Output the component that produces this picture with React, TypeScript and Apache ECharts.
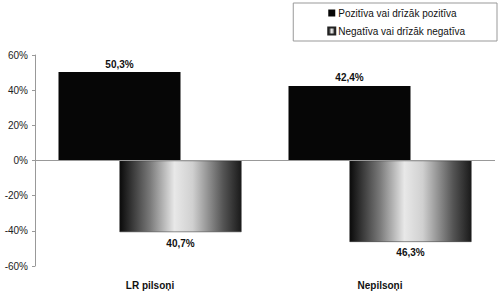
import React, { useEffect, useRef } from "react";
import * as echarts from "echarts";

const categories = ["LR pilsoņi", "Nepilsoņi"];
const positiveName = "Pozitīva vai drīzāk pozitīva";
const negativeName = "Negatīva vai drīzāk negatīva";
const positiveValues = [50.3, 42.4];
const negativeValues = [-40.7, -46.3];
const yTicks = { min: -60, max: 60, interval: 20 };

const fmt = (v: number) => Math.abs(v).toFixed(1).replace(".", ",") + "%";

export default function App() {
  const ref = useRef<HTMLDivElement>(null);
  useEffect(() => {
    if (!ref.current) return;
    const chart = echarts.init(ref.current, null, { renderer: "svg" });
    const grad = new echarts.graphic.LinearGradient(0, 0, 1, 0, [
      { offset: 0, color: "#0a0a0a" },
      { offset: 0.25, color: "#7a7a7a" },
      { offset: 0.45, color: "#e8e8e8" },
      { offset: 0.6, color: "#d0d0d0" },
      { offset: 0.85, color: "#555" },
      { offset: 1, color: "#1a1a1a" },
    ]);
    chart.setOption({
      animation: false,
      textStyle: { fontFamily: "Liberation Sans, Arial, sans-serif" },
      grid: { left: 35, right: 5, top: 55, bottom: 28 },
      legend: {
        orient: "vertical",
        right: 3,
        top: 3,
        borderColor: "#999",
        borderWidth: 1,
        padding: [5, 32, 5, 34],
        itemGap: 8,
        itemWidth: 7,
        itemHeight: 7,
        icon: "rect",
        textStyle: { fontSize: 10, color: "#111", padding: [0, 0, 0, -2] },
        data: [positiveName, negativeName],
      },
      xAxis: {
        type: "category",
        data: categories,
        axisLine: { show: false },
        axisTick: { show: false },
        axisLabel: { margin: 14, fontSize: 10, fontWeight: "bold", color: "#111" },
      },
      yAxis: {
        type: "value",
        min: yTicks.min,
        max: yTicks.max,
        interval: yTicks.interval,
        axisLine: { show: true, lineStyle: { color: "#999" } },
        axisTick: { show: true, length: 3, lineStyle: { color: "#999" } },
        splitLine: { show: false },
        axisLabel: {
          formatter: (v: number) => v + "%",
          fontSize: 10,
          color: "#222",
          margin: 7,
        },
      },
      series: [
        {
          name: positiveName,
          type: "bar",
          data: positiveValues,
          barWidth: 122,
          barGap: "-50%",
          itemStyle: { color: "#060606" },
          label: {
            show: true,
            position: "top",
            distance: 3,
            formatter: (p: any) => fmt(p.value),
            fontSize: 10,
            fontWeight: "bold",
            color: "#111",
          },
          markLine: {
            silent: true,
            symbol: "none",
            label: { show: false },
            lineStyle: { color: "#999", type: "solid", width: 1 },
            data: [{ yAxis: 0 }],
          },
        },
        {
          name: negativeName,
          type: "bar",
          data: negativeValues,
          barWidth: 122,
          barGap: "-50%",
          itemStyle: { color: grad, borderColor: "#222", borderWidth: 0.5 },
          label: {
            show: true,
            position: "bottom",
            distance: 6,
            formatter: (p: any) => fmt(p.value),
            fontSize: 10,
            fontWeight: "bold",
            color: "#111",
          },
          z: 3,
        },
      ],
    });
    return () => chart.dispose();
  }, []);
  return (
    <div
      ref={ref}
      style={{ position: "absolute", left: 0, top: 0, width: 500, height: 294, background: "#fff" }}
    />
  );
}
